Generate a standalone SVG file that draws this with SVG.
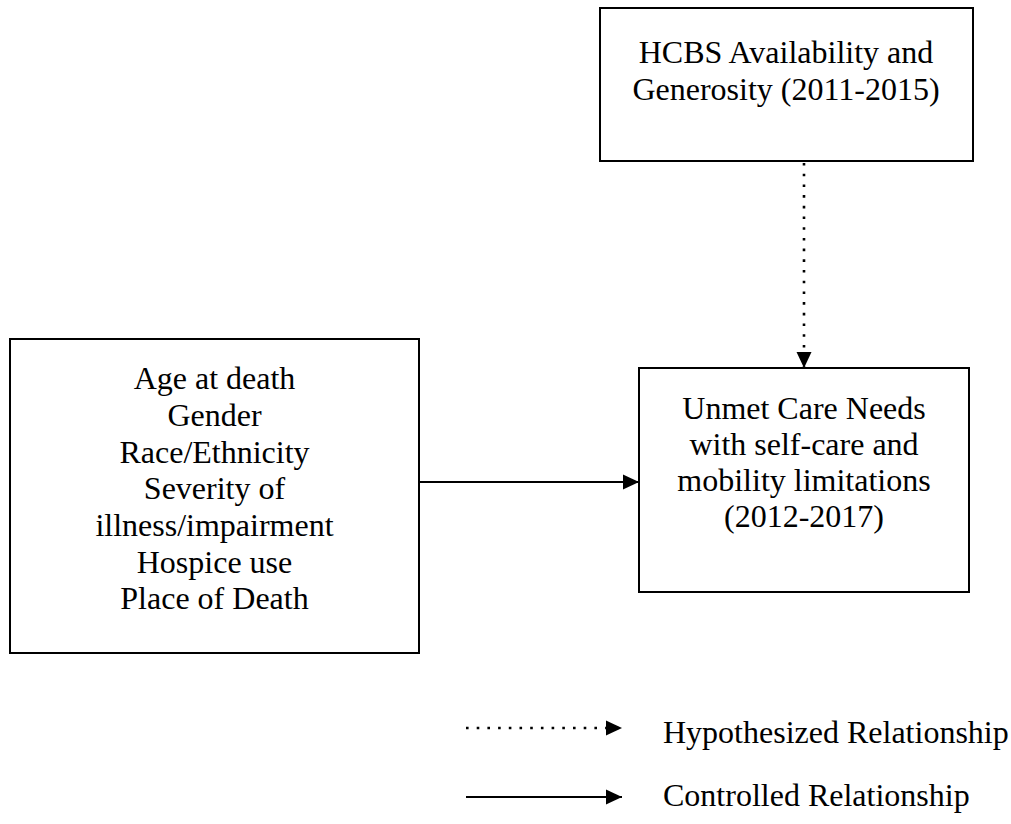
<svg xmlns="http://www.w3.org/2000/svg" width="1011" height="824" viewBox="0 0 1011 824">
  <style>
    .box { fill: #ffffff; stroke: #000000; stroke-width: 2; }
    .lbl { font-family: "Liberation Serif", "Times New Roman", serif; font-size: 32px; fill: #000000; }
    .mid { text-anchor: middle; }
    .solid { stroke: #000000; stroke-width: 2; fill: none; }
    .dotted { stroke: #000000; stroke-width: 2.6; fill: none; stroke-dasharray: 2.6 8.1; }
  </style>
  <defs>
    <marker id="arrow" markerUnits="userSpaceOnUse" markerWidth="17" markerHeight="16" refX="16" refY="8" orient="auto">
      <path d="M0,0.5 L16,8 L0,15.5 Z" fill="#000000"/>
    </marker>
  </defs>
  <rect width="1011" height="824" fill="#ffffff"/>

  <g id="node-hcbs">
    <rect class="box" x="600" y="8" width="373" height="153"/>
    <text class="lbl mid" x="786" y="63">HCBS Availability and</text>
    <text class="lbl mid" x="786" y="100">Generosity (2011-2015)</text>
  </g>

  <g id="node-covariates">
    <rect class="box" x="10" y="339" width="409" height="314"/>
    <text class="lbl mid" x="214.5" y="389">Age at death</text>
    <text class="lbl mid" x="214.5" y="426">Gender</text>
    <text class="lbl mid" x="214.5" y="462.5">Race/Ethnicity</text>
    <text class="lbl mid" x="214.5" y="499">Severity of</text>
    <text class="lbl mid" x="214.5" y="536">illness/impairment</text>
    <text class="lbl mid" x="214.5" y="572.5">Hospice use</text>
    <text class="lbl mid" x="214.5" y="609">Place of Death</text>
  </g>

  <g id="node-unmet">
    <rect class="box" x="639" y="368" width="330" height="224"/>
    <text class="lbl mid" x="804" y="419">Unmet Care Needs</text>
    <text class="lbl mid" x="804" y="455">with self-care and</text>
    <text class="lbl mid" x="804" y="491">mobility limitations</text>
    <text class="lbl mid" x="804" y="527">(2012-2017)</text>
  </g>

  <g id="connectors">
    <line class="dotted" x1="804" y1="163" x2="804" y2="368" marker-end="url(#arrow)"/>
    <line class="solid" x1="420" y1="482" x2="639" y2="482" marker-end="url(#arrow)"/>
  </g>

  <g id="legend">
    <line class="dotted" x1="466" y1="728" x2="622" y2="728" marker-end="url(#arrow)"/>
    <text class="lbl" x="663" y="743">Hypothesized Relationship</text>
    <line class="solid" x1="466" y1="797" x2="622" y2="797" stroke-width="3" marker-end="url(#arrow)"/>
    <text class="lbl" x="663" y="806">Controlled Relationship</text>
  </g>
</svg>
